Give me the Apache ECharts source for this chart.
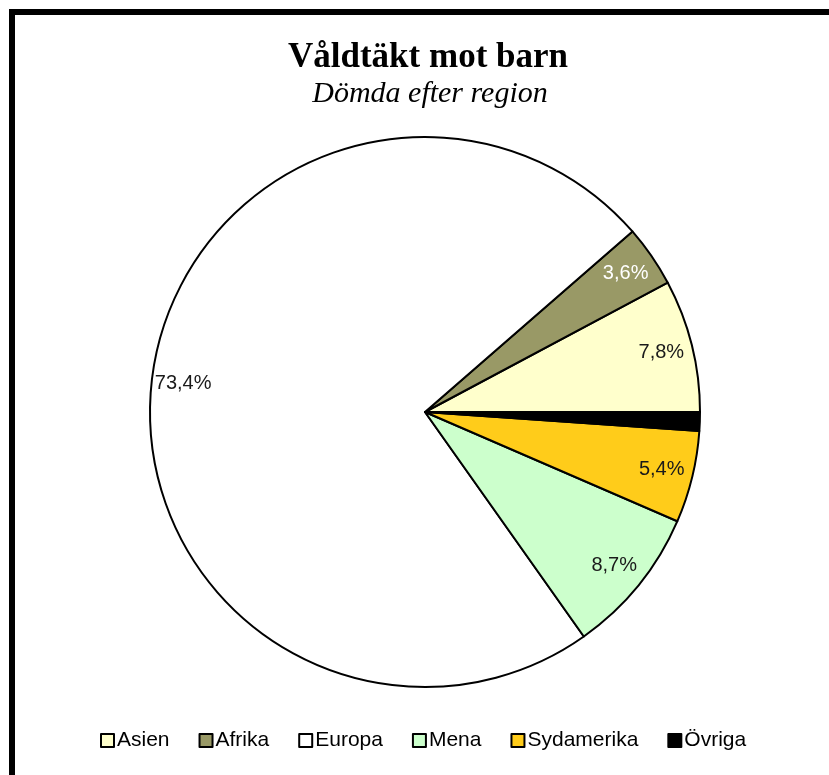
<!DOCTYPE html>
<html><head><meta charset="utf-8">
<script src="https://cdn.jsdelivr.net/npm/echarts@6/dist/echarts.min.js"></script>
<style>html,body{margin:0;padding:0;background:#fff}#c{width:829px;height:775px}</style>
</head><body><div id="c"></div>
<script>
const categories = ['Asien', 'Afrika', 'Europa', 'Mena', 'Sydamerika', 'Övriga'];
const values = [7.8, 3.6, 73.4, 8.7, 5.4, 1.1];
const colors = ['#FFFFCC', '#999966', '#FFFFFF', '#CCFFCC', '#FFCC1A', '#000000'];
const labelColors = ['#1a1a1a', '#ffffff', '#1a1a1a', '#1a1a1a', '#1a1a1a', '#1a1a1a'];
const titleText = 'Våldtäkt mot barn';
const subtitleText = 'Dömda efter region';

const chart = echarts.init(document.getElementById('c'), null, {renderer: 'canvas'});
const fmt = v => v.toFixed(1).replace('.', ',') + '%';
const center = [425, 412];
const R = 275;

const mainData = categories.map((c, i) => ({
  name: c, value: values[i],
  itemStyle: {color: colors[i], borderColor: '#000', borderWidth: 2}
}));
const labelData = categories.map((c, i) => ({
  name: c, value: values[i],
  label: {show: i !== 5, color: labelColors[i]}
}));

chart.setOption({
  animation: false,
  title: [
    {text: titleText, left: 423, top: 35, textAlign: 'center',
     textStyle: {fontFamily: 'Liberation Serif', fontWeight: 'bold', fontSize: 35, color: '#000'}},
    {text: subtitleText, left: 425, top: 74, textAlign: 'center',
     textStyle: {fontFamily: 'Liberation Serif', fontStyle: 'italic', fontWeight: 'normal', fontSize: 30, color: '#000'}}
  ],
  legend: {
    data: categories, top: 725, left: 95, itemWidth: 13, itemHeight: 13, itemGap: 29,
    icon: 'rect',
    textStyle: {fontFamily: 'Liberation Sans', fontSize: 21, color: '#000', padding: [0, 0, 0, -2]},
    itemStyle: {borderColor: '#000', borderWidth: 2}
  },
  graphic: [{
    type: 'rect', shape: {x: 12, y: 12, width: 1000, height: 1000},
    style: {fill: 'none', stroke: '#000', lineWidth: 6}, z: 100
  }],
  series: [
    {type: 'pie', center: center, radius: [0, R], startAngle: 0, clockwise: false,
     label: {show: false}, labelLine: {show: false}, emphasis: {disabled: true},
     data: mainData, silent: true},
    {type: 'pie', center: center, radius: [R * 0.75, R], startAngle: 0, clockwise: false,
     itemStyle: {color: 'rgba(0,0,0,0)', borderWidth: 0},
     label: {position: 'inside', fontFamily: 'Liberation Sans', fontSize: 20,
             formatter: p => fmt(p.value)},
     labelLine: {show: false}, emphasis: {disabled: true}, silent: true,
     legendHoverLink: false, data: labelData}
  ]
});
</script></body></html>
